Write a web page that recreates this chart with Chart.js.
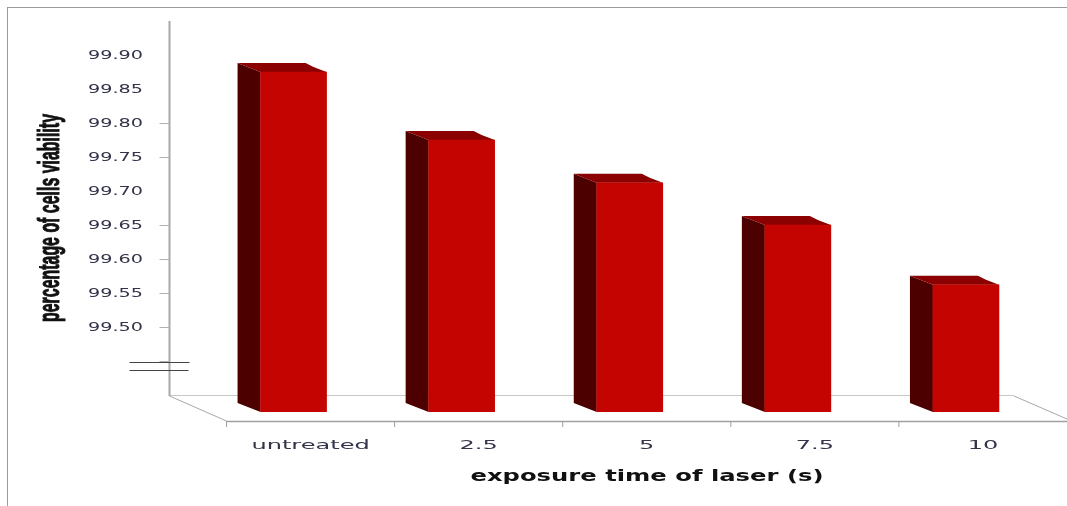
<!DOCTYPE html>
<html>
<head>
<meta charset="utf-8">
<title>Cell viability by laser exposure</title>
<script src="https://cdn.jsdelivr.net/npm/chart.js@4/dist/chart.umd.min.js"></script>
<style>
  html, body { margin: 0; background: #fff; overflow: hidden; }
  #wrap { position: relative; width: 1067px; height: 506px; }
  #frame { position: absolute; left: 7px; top: 7px; right: 0; bottom: 0; border-left: 1px solid #9a9a9a; border-top: 1px solid #9a9a9a; }
  canvas { position: absolute; left: 0; top: 0; }
</style>
</head>
<body>
<div id="wrap">
  <div id="frame"></div>
  <canvas id="viabilityChart" width="1067" height="506"></canvas>
</div>
<script>
// Chart data
const categories = ['untreated', '2.5', '5', '7.5', '10'];
const viability = [99.90, 99.80, 99.737, 99.675, 99.587];
const tickLabels = ['99.50', '99.55', '99.60', '99.65', '99.70', '99.75', '99.80', '99.85', '99.90'];
const tickMarks = [99.45, 99.50, 99.55, 99.60, 99.65, 99.75, 99.80];
const xTitle = 'exposure time of laser (s)';
const yTitle = 'percentage of cells viability';

// Depth of the fake 3D box
const barDepthX = 23;
const barDepthY = 9;
const wallShiftX = 40;   // wall sits this far left of the plot area
const wallShiftY = 17;   // ticks on the wall sit this far above the front plane
const floorShiftX = 17;  // floor front edge sits this far right of the plot area

// Draws text squeezed or stretched sideways, canvas has no font-stretch
function stretchedText(ctx, text, x, y, font, scaleX, color, rotate) {
  ctx.save();
  ctx.font = font;
  ctx.fillStyle = color;
  ctx.textAlign = 'center';
  ctx.textBaseline = 'middle';
  ctx.translate(x, y);
  if (rotate) ctx.rotate(-Math.PI / 2);
  ctx.scale(scaleX, 1);
  ctx.fillText(text, 0, 0);
  if (rotate) {
    // thicken the narrow rotated title
    ctx.strokeStyle = color;
    ctx.lineWidth = 1;
    ctx.strokeText(text, 0, 0);
  }
  ctx.restore();
}

function fitScale(ctx, text, font, width) {
  ctx.save();
  ctx.font = font;
  const w = ctx.measureText(text).width;
  ctx.restore();
  return width / w;
}

function line(ctx, x1, y1, x2, y2, color, lw) {
  ctx.strokeStyle = color;
  ctx.lineWidth = lw;
  ctx.beginPath();
  ctx.moveTo(x1, y1);
  ctx.lineTo(x2, y2);
  ctx.stroke();
}

function poly(ctx, pts, color) {
  ctx.fillStyle = color;
  ctx.beginPath();
  pts.forEach((p, i) => i ? ctx.lineTo(p[0], p[1]) : ctx.moveTo(p[0], p[1]));
  ctx.closePath();
  ctx.fill();
}

// Wall, floor, axis ticks, text and the side/top faces of the bars
const boxPlugin = {
  id: 'box3d',
  beforeDatasetsDraw(chart) {
    const ctx = chart.ctx;
    const area = chart.chartArea;
    const x = chart.scales.x;
    const y = chart.scales.y;
    const wallX = area.left - wallShiftX;
    const floorBack = y.getPixelForValue(y.min) - wallShiftY;
    const floorFront = area.bottom + 9;
    const frontLeft = area.left + floorShiftX;
    const backRight = area.right - 36;

    ctx.save();
    // floor
    line(ctx, wallX, floorBack + 0.5, backRight, floorBack + 0.5, '#c8c8c8', 1);
    line(ctx, wallX, floorBack + 1, frontLeft, floorFront, '#a8a8a8', 1);
    line(ctx, backRight, floorBack + 1, chart.width, floorFront - 2, '#a8a8a8', 1);
    line(ctx, frontLeft, floorFront + 0.5, chart.width, floorFront + 0.5, '#a0a0a0', 1.5);

    // category ticks on the floor edge
    const step = x.width / categories.length;
    categories.forEach((c, i) => {
      const tx = area.left + floorShiftX + step * i;
      line(ctx, tx, floorFront, tx, floorFront + 6, '#a0a0a0', 1);
    });

    // wall line and its tick marks
    line(ctx, wallX, y.getPixelForValue(y.max) - wallShiftY, wallX, floorBack + 1, '#a8a8a8', 2);
    tickMarks.forEach(v => {
      const ty = Math.round(y.getPixelForValue(v) - wallShiftY) + 0.5;
      line(ctx, wallX - 10, ty, wallX, ty, '#b0b0b0', 1);
    });

    // axis break marks
    const breakY = y.getPixelForValue(99.45) - wallShiftY;
    line(ctx, wallX - 40, breakY + 1.5, wallX + 20, breakY + 1.5, '#444', 1);
    line(ctx, wallX - 40, breakY + 9.5, wallX + 19, breakY + 9.5, '#444', 1);

    // side and top faces of each bar, the base is cut off at the bottom of the plot
    chart.getDatasetMeta(0).data.forEach(bar => {
      const left = bar.x - bar.width / 2;
      const right = bar.x + bar.width / 2;
      poly(ctx, [
        [left, bar.y],
        [left - barDepthX, bar.y - barDepthY],
        [left - barDepthX, area.bottom - barDepthY],
        [left, area.bottom]
      ], '#4d0000');
      poly(ctx, [
        [left - barDepthX, bar.y - barDepthY],
        [right - 21, bar.y - barDepthY],
        [right - 13, bar.y - 5],
        [right, bar.y],
        [left, bar.y]
      ], '#8b0000');
    });

    // tick labels, wider than any installed face
    tickLabels.forEach(label => {
      const ly = y.getPixelForValue(Number(label)) - wallShiftY + 1;
      stretchedText(ctx, label, 115.5, ly, '12px "DejaVu Sans"', 1.6, '#33334a');
    });
    chart.getDatasetMeta(0).data.forEach((bar, i) => {
      stretchedText(ctx, categories[i], bar.x + floorShiftX, 446, '13px "DejaVu Sans"', 1.85, '#33334a');
    });

    // axis titles
    const xFont = 'bold 15px "DejaVu Sans"';
    stretchedText(ctx, xTitle, 647, 477, xFont, fitScale(ctx, xTitle, xFont, 353), '#111');
    const yFont = 'bold 30px "Liberation Sans"';
    stretchedText(ctx, yTitle, 51, 218, yFont, fitScale(ctx, yTitle, yFont, 208), '#111', true);
    ctx.restore();
  }
};

const ctx = document.getElementById('viabilityChart').getContext('2d');
const viabilityChart = new Chart(ctx, {
  type: 'bar',
  data: {
    labels: categories,
    datasets: [{
      label: 'percentage of cells viability',
      data: viability,
      backgroundColor: '#c40400',
      barThickness: 66
    }]
  },
  options: {
    responsive: false,
    animation: false,
    layout: { padding: { top: 38, right: 17 } },
    plugins: {
      legend: { display: false },
      tooltip: { enabled: false }
    },
    scales: {
      x: {
        grid: { display: false },
        border: { display: false },
        ticks: { display: false },
        afterFit(scale) { scale.height = 94; }
      },
      y: {
        min: 99.40,
        max: 99.95,
        grid: { display: false },
        border: { display: false },
        ticks: { display: false, stepSize: 0.05 },
        afterFit(scale) { scale.width = 209.5; }
      }
    }
  },
  plugins: [boxPlugin]
});
</script>
</body>
</html>
